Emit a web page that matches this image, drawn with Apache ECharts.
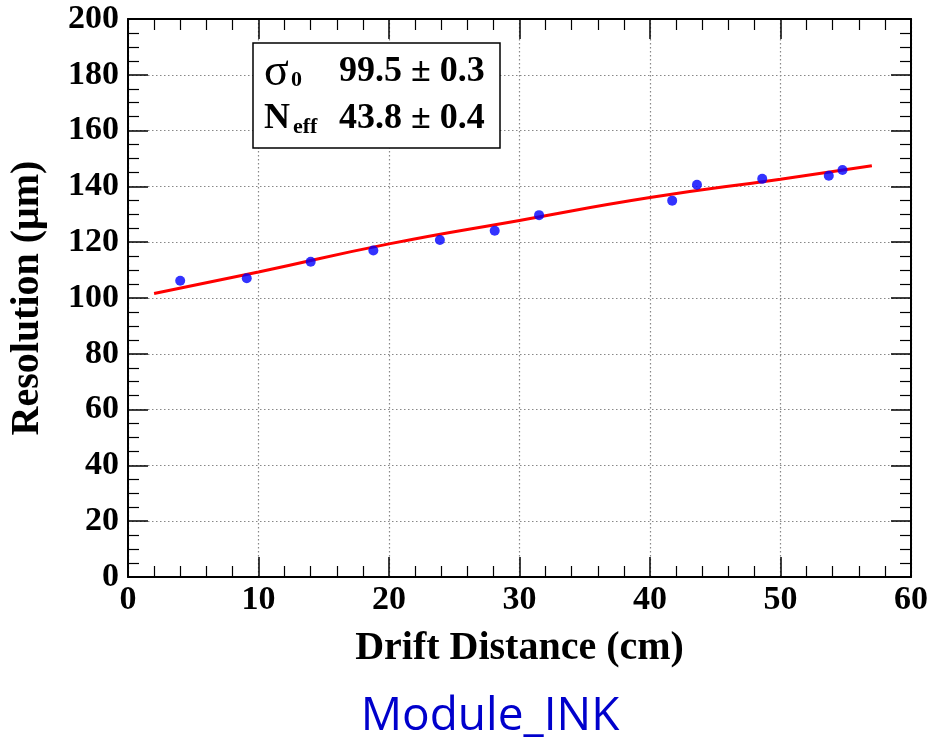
<!DOCTYPE html>
<html>
<head>
<meta charset="utf-8">
<script src="https://cdn.jsdelivr.net/npm/echarts@6/dist/echarts.min.js"></script>
<style>html,body{margin:0;padding:0;background:#fff}#c{width:944px;height:741px}</style>
</head>
<body>
<div id="c"></div>
<script>
// Measured points: drift distance (cm) and resolution (um)
const driftX = [4.0, 9.1, 14.0, 18.8, 23.9, 28.1, 31.5, 41.7, 43.6, 48.6, 53.7, 54.75];
const resolutionY = [106.2, 107.1, 113.0, 117.0, 120.8, 124.1, 129.7, 134.9, 140.6, 142.7, 143.8, 145.9];
// Fit curve
const fitX = [2, 10, 20, 30, 40, 50, 57];
const fitY = [101.6, 109.3, 119.4, 127.8, 136.0, 142.6, 147.4];
// Axis settings
const xTicks = {min: 0, max: 60, interval: 10};
const yTicks = {min: 0, max: 200, interval: 20};
// Fit results
const statLabels = ['σ', 'N'];
const statSubs = ['0', 'eff'];
const statValues = ['99.5 ± 0.3', '43.8 ± 0.4'];
const moduleName = 'Module_INK';

const serif = 'Liberation Serif';
const chart = echarts.init(document.getElementById('c'), null, {renderer: 'canvas'});

function axisBase(showLabels, pos, minorSplit, isX) {
  return {
    type: 'value',
    position: pos,
    axisLine: {show: true, onZero: false, lineStyle: {color: '#000', width: 2}},
    axisTick: {show: true, inside: true, length: 20, lineStyle: {color: '#000', width: 1.5}},
    minorTick: {show: true, splitNumber: minorSplit, length: 11, lineStyle: {color: '#000', width: 1.2}},
    splitLine: {show: showLabels, lineStyle: {color: '#888', type: [1.5, 2.5], width: 1.2}},
    axisLabel: {show: showLabels, fontFamily: serif, fontWeight: 'bold', fontSize: 34, color: '#000', margin: isX ? 6 : 9}
  };
}

const xData = driftX.map((x, i) => [x, resolutionY[i]]);
const fitData = fitX.map((x, i) => [x, fitY[i]]);

const statGraphics = [
  {type: 'rect', shape: {x: 253, y: 43, width: 247, height: 105}, style: {fill: '#fff', stroke: '#000', lineWidth: 1.5}, z: 100}
];
const rowY = [72, 119];
statLabels.forEach((lab, i) => {
  statGraphics.push({type: 'text', x: 264, y: rowY[i] + (i === 0 ? 1 : 0), z: 101,
    style: {text: lab, font: (i === 0 ? 'normal 46px ' : 'bold 36px ') + serif, fill: '#000', verticalAlign: 'middle', align: 'left'}});
  statGraphics.push({type: 'text', x: i === 0 ? 291 : 293, y: rowY[i] + 8, z: 101,
    style: {text: statSubs[i], font: 'bold 22px ' + serif, fill: '#000', verticalAlign: 'middle', align: 'left'}});
  statGraphics.push({type: 'text', x: 339, y: rowY[i], z: 101,
    style: {text: statValues[i], font: 'bold 36px ' + serif, fill: '#000', verticalAlign: 'middle', align: 'left'}});
});
statGraphics.push({type: 'text', x: 490, y: 717, z: 101,
  style: {text: moduleName, font: 'normal 46px "Open Sans"', fill: '#0000cc', align: 'center', verticalAlign: 'middle'}});

const option = {
  animation: false,
  backgroundColor: '#fff',
  grid: {left: 126, right: 33, top: 19, bottom: 164, show: false},
  xAxis: [
    Object.assign(axisBase(true, 'bottom', 5, true), xTicks, {
      name: 'Drift Distance (cm)', nameLocation: 'middle', nameGap: 52,
      nameTextStyle: {fontFamily: serif, fontWeight: 'bold', fontSize: 40, color: '#000'}
    }),
    Object.assign(axisBase(false, 'top', 5, true), xTicks)
  ],
  yAxis: [
    Object.assign(axisBase(true, 'left', 4, false), yTicks, {
      name: 'Resolution (μm)', nameLocation: 'middle', nameGap: 80,
      nameTextStyle: {fontFamily: serif, fontWeight: 'bold', fontSize: 40, color: '#000'}
    }),
    Object.assign(axisBase(false, 'right', 4, false), yTicks)
  ],
  series: [
    {type: 'line', data: fitData, smooth: true, symbol: 'none', xAxisIndex: 0, yAxisIndex: 0,
      lineStyle: {color: '#ff0000', width: 3}, z: 3},
    {type: 'scatter', data: xData, symbol: 'circle', symbolSize: 10, xAxisIndex: 0, yAxisIndex: 0,
      itemStyle: {color: '#0000ff'}, z: 4}
  ],
  graphic: statGraphics
};
chart.setOption(option);
</script>
</body>
</html>
